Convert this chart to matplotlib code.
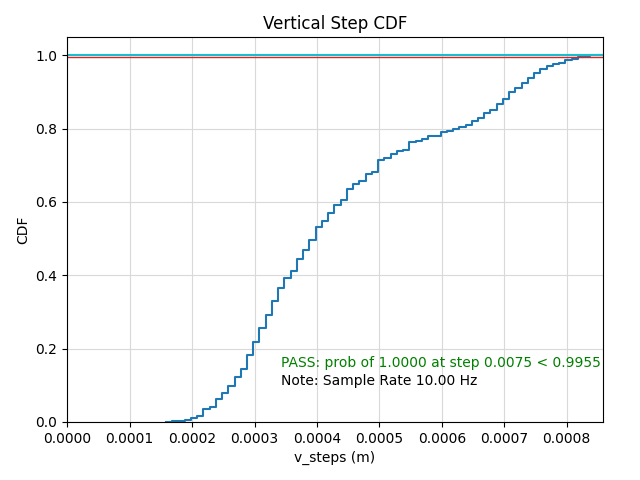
import matplotlib
matplotlib.use("Agg")
import matplotlib.pyplot as plt
from matplotlib.ticker import FormatStrFormatter

# Bin edges of v_steps (m) where the CDF steps up
v_steps = [0.000158, 0.000168, 0.000178, 0.000188, 0.000198, 0.000208, 0.000218,
           0.000228, 0.000238, 0.000248, 0.000258, 0.000268, 0.000278, 0.000288,
           0.000298, 0.000308, 0.000318, 0.000328, 0.000338, 0.000348, 0.000358,
           0.000368, 0.000378, 0.000388, 0.000398, 0.000408, 0.000418, 0.000428,
           0.000438, 0.000448, 0.000458, 0.000468, 0.000478, 0.000488, 0.000498,
           0.000508, 0.000518, 0.000528, 0.000538, 0.000548, 0.000558, 0.000568,
           0.000578, 0.000588, 0.000598, 0.000608, 0.000618, 0.000628, 0.000638,
           0.000648, 0.000658, 0.000668, 0.000678, 0.000688, 0.000698, 0.000708,
           0.000718, 0.000728, 0.000738, 0.000748, 0.000758, 0.000768, 0.000778,
           0.000788, 0.000798, 0.000808, 0.000818, 0.000828, 0.000838, 0.000858]
cdf = [0.001, 0.002, 0.003, 0.005, 0.010, 0.016, 0.035,
       0.040, 0.062, 0.078, 0.099, 0.123, 0.145, 0.183,
       0.219, 0.255, 0.291, 0.331, 0.365, 0.393, 0.413,
       0.445, 0.469, 0.496, 0.532, 0.549, 0.570, 0.593,
       0.605, 0.636, 0.649, 0.658, 0.677, 0.681, 0.714,
       0.719, 0.730, 0.740, 0.742, 0.763, 0.767, 0.773,
       0.780, 0.781, 0.790, 0.793, 0.800, 0.804, 0.811,
       0.820, 0.828, 0.843, 0.852, 0.868, 0.880, 0.901,
       0.910, 0.925, 0.939, 0.953, 0.962, 0.971, 0.975,
       0.980, 0.987, 0.991, 0.994, 0.998, 1.000, 1.000]

threshold = 0.9955
prob_line = 1.0
pass_text = "PASS: prob of 1.0000 at step 0.0075 < 0.9955"
note_text = "Note: Sample Rate 10.00 Hz"

fig = plt.figure(figsize=(6.4, 4.8), dpi=100)
ax = fig.add_subplot(111)
fig.subplots_adjust(left=0.105, right=0.942, top=0.923, bottom=0.121)

ax.step(v_steps, cdf, where='post', color='C0', lw=1.5)
ax.axhline(threshold, color='C3', lw=1.0)
ax.axhline(prob_line, color='C9', lw=1.5)

ax.set_xlim(0, v_steps[-1])
ax.set_ylim(0, 1.05)
ax.xaxis.set_major_formatter(FormatStrFormatter('%.4f'))
ax.grid(True, color='#d9d9d9')
ax.set_axisbelow(True)
ax.set_title("Vertical Step CDF")
ax.set_xlabel("v_steps (m)")
ax.set_ylabel("CDF")

ax.text(0.4, 0.135, pass_text, color='green', transform=ax.transAxes, va='bottom')
ax.text(0.4, 0.088, note_text, color='black', transform=ax.transAxes, va='bottom')

fig.savefig("out.png", dpi=100)
